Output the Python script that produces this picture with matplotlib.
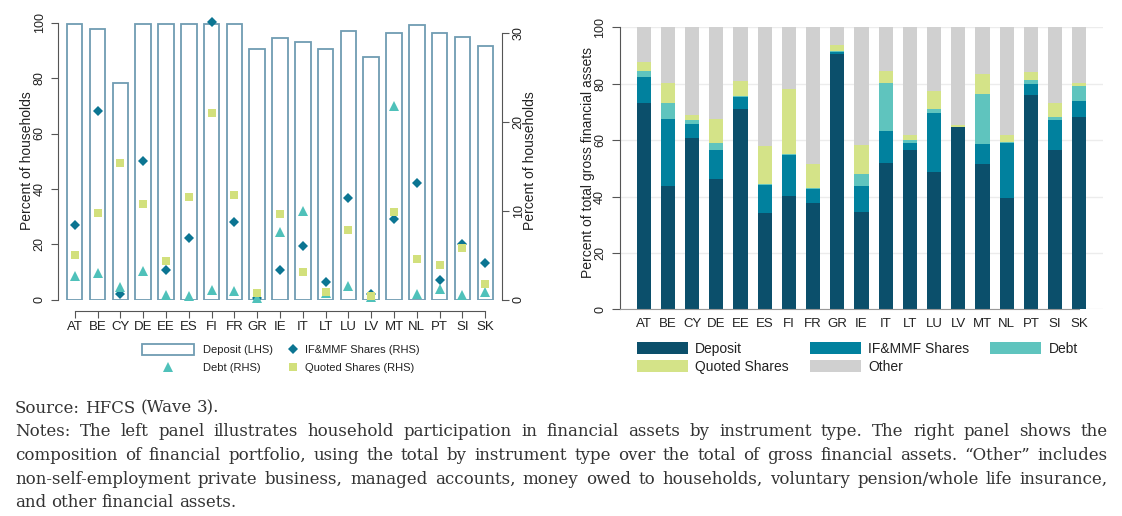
import matplotlib
matplotlib.use('Agg')
import matplotlib.pyplot as plt
from matplotlib.patches import Patch
from matplotlib.lines import Line2D
import numpy as np

plt.rcParams['font.family'] = ['Liberation Sans', 'DejaVu Sans']

# ---------------- data ----------------
countries = ["AT", "BE", "CY", "DE", "EE", "ES", "FI", "FR", "GR", "IE",
             "IT", "LT", "LU", "LV", "MT", "NL", "PT", "SI", "SK"]

# Left panel: participation (percent of households)
part_deposit = [99.5, 97.7, 78.1, 99.4, 99.5, 99.5, 99.7, 99.5, 90.4, 94.5,
                92.9, 90.4, 97.0, 87.6, 96.3, 99.2, 96.3, 94.7, 91.6]   # LHS
part_ifmmf = [8.4, 21.2, 0.6, 15.6, 3.4, 7.0, 31.3, 8.7, 0.2, 3.4,
              6.0, 2.0, 11.5, 0.65, 9.1, 13.1, 2.2, 6.3, 4.1]          # RHS
part_debt = [2.7, 3.0, 1.4, 3.2, 0.5, 0.4, 1.05, 0.95, 0.2, 7.6,
             10.0, 0.7, 1.5, 0.3, 21.8, 0.65, 1.25, 0.5, 0.9]          # RHS
part_quoted = [5.0, 9.8, 15.4, 10.8, 4.4, 11.6, 21.0, 11.8, 0.8, 9.7,
               3.1, 0.9, 7.8, 0.4, 9.9, 4.6, 3.9, 5.8, 1.8]            # RHS

# Right panel: composition (percent of total gross financial assets)
comp_deposit = [73.0, 43.7, 60.8, 46.2, 71.0, 34.3, 40.2, 37.8, 90.4, 34.6,
                52.0, 56.5, 48.6, 64.5, 51.5, 39.4, 76.0, 56.5, 68.1]
comp_ifmmf = [9.3, 23.9, 4.9, 10.3, 4.3, 9.7, 14.5, 4.8, 1.0, 9.0,
              11.4, 2.4, 20.9, 0.2, 7.1, 19.7, 3.9, 10.8, 5.8]
comp_debt = [2.2, 5.4, 1.4, 2.4, 0.3, 0.4, 0.4, 0.5, 0.2, 4.3,
             16.7, 1.1, 1.4, 0.1, 17.9, 0.4, 1.4, 0.8, 5.2]
comp_quoted = [3.3, 7.4, 1.7, 8.6, 5.4, 13.6, 22.9, 8.4, 2.0, 10.4,
               4.4, 1.9, 6.6, 0.4, 7.1, 2.2, 2.7, 5.2, 1.3]
comp_other = [12.2, 19.6, 31.2, 32.5, 19.0, 42.0, 22.0, 48.5, 6.4, 41.7,
              15.5, 38.1, 22.5, 34.8, 16.4, 38.3, 16.0, 26.7, 19.6]

left_yticks = [0, 20, 40, 60, 80, 100]
right_yticks = [0, 10, 20, 30]
comp_yticks = [0, 20, 40, 60, 80, 100]

source_text = "Source: HFCS (Wave 3)."
notes_lines = [
    "Notes: The left panel illustrates household participation in financial assets by instrument type. The right panel shows the",
    "composition of financial portfolio, using the total by instrument type over the total of gross financial assets. \u201cOther\u201d includes",
    "non-self-employment private business, managed accounts, money owed to households, voluntary pension/whole life insurance,",
    "and other financial assets.",
]

# ---------------- styling ----------------
BAR_EDGE = '#6f9cb2'
C_DIAM = '#0b7592'
C_TRI = '#4fc1ba'
C_SQ = '#d2e07c'
C_DEP = '#0b4f6b'
C_IF = '#01819e'
C_DEBT = '#5fc4be'
C_QS = '#d4e388'
C_OTH = '#d0d0d0'
SPINE = '#555555'
TXT = '#222222'

W, H = 1122, 516
fig = plt.figure(figsize=(W / 100, H / 100), dpi=100)


def fbox(x0, y0, x1, y1):
    return [x0 / W, 1 - y1 / H, (x1 - x0) / W, (y1 - y0) / H]


x = np.arange(len(countries))

# ---------------- left panel ----------------
ax1 = fig.add_axes(fbox(58.3, 22.7, 501.7, 299.7))
ax1.bar(x, part_deposit, width=0.68, facecolor='white', edgecolor=BAR_EDGE,
        linewidth=1.3, zorder=1)
ax1.set_xlim(-0.72, len(countries) - 1 + 0.72)
ax1.set_ylim(0, 100)
ax1.patch.set_visible(False)

ax2 = ax1.twinx()
ax2.set_ylim(0, 277 / 8.88)
ax2.plot(x, part_ifmmf, linestyle='none', marker='D', ms=5.3, color=C_DIAM,
         mew=0, clip_on=False, zorder=3)
ax2.plot(x, part_debt, linestyle='none', marker='^', ms=6.8, color=C_TRI,
         mew=0, clip_on=False, zorder=4)
ax2.plot(x, part_quoted, linestyle='none', marker='s', ms=5.2, color=C_SQ,
         mew=0, clip_on=False, zorder=5)

for s in ['top', 'right']:
    ax1.spines[s].set_visible(False)
ax1.spines['left'].set_bounds(0, 100)
ax1.spines['left'].set_color(SPINE)
ax1.spines['bottom'].set_position(('outward', 8))
ax1.spines['bottom'].set_bounds(0, len(countries) - 1)
ax1.spines['bottom'].set_color(SPINE)
ax1.set_yticks(left_yticks)
ax1.set_xticks(x)
ax1.set_xticklabels(countries)
ax1.tick_params(axis='y', length=5, color=SPINE, pad=4, labelsize=9,
                labelrotation=90, labelcolor=TXT)
ax1.tick_params(axis='x', length=5, color=SPINE, pad=2, labelsize=9.5,
                labelcolor=TXT)
for lab in ax1.get_yticklabels():
    lab.set_va('center')

for s in ['top', 'left', 'bottom']:
    ax2.spines[s].set_visible(False)
ax2.spines['right'].set_bounds(0, 30)
ax2.spines['right'].set_color(SPINE)
ax2.set_yticks(right_yticks)
ax2.tick_params(axis='y', length=5, color=SPINE, pad=3, labelsize=9,
                labelrotation=90, labelcolor=TXT)
for lab in ax2.get_yticklabels():
    lab.set_va('center')

fig.text(27 / W, 1 - 161 / H, "Percent of households", rotation=90,
         ha='center', va='center', fontsize=10, color=TXT)
fig.text(530 / W, 1 - 161 / H, "Percent of households", rotation=90,
         ha='center', va='center', fontsize=10, color=TXT)

legA = fig.legend(
    handles=[Patch(facecolor='white', edgecolor=BAR_EDGE, linewidth=1.3),
             Line2D([], [], linestyle='none', marker='^', ms=6.8, color=C_TRI, mew=0)],
    labels=["Deposit (LHS)", "Debt (RHS)"],
    loc='upper left', bbox_to_anchor=(141.6 / W, 1 - 344 / H),
    frameon=False, fontsize=8, handlelength=4.7, handleheight=1.15,
    handletextpad=0.8, labelspacing=0.6, borderpad=0, borderaxespad=0)
for t in legA.get_texts():
    t.set_color(TXT)
legB = fig.legend(
    handles=[Line2D([], [], linestyle='none', marker='D', ms=5.3, color=C_DIAM, mew=0),
             Line2D([], [], linestyle='none', marker='s', ms=5.2, color=C_SQ, mew=0)],
    labels=["IF&MMF Shares (RHS)", "Quoted Shares (RHS)"],
    loc='upper left', bbox_to_anchor=(287 / W, 1 - 344 / H),
    frameon=False, fontsize=8, handlelength=1.1, handleheight=1.15,
    handletextpad=0.5, labelspacing=0.6, borderpad=0, borderaxespad=0)
for t in legB.get_texts():
    t.set_color(TXT)

# ---------------- right panel ----------------
ax3 = fig.add_axes(fbox(620, 27.3, 1103, 309.3))
series = [(comp_deposit, C_DEP, "Deposit"), (comp_ifmmf, C_IF, "IF&MMF Shares"),
          (comp_debt, C_DEBT, "Debt"), (comp_quoted, C_QS, "Quoted Shares"),
          (comp_other, C_OTH, "Other")]
bottom = np.zeros(len(countries))
bars = {}
for vals, col, name in series:
    v = np.array(vals)
    bars[name] = ax3.bar(x, v, bottom=bottom, width=0.59, color=col,
                         edgecolor='none', zorder=2, label=name)
    bottom += v
ax3.set_xlim(-0.98, len(countries) - 1 + 0.98)
ax3.set_ylim(0, 100)
ax3.set_yticks(comp_yticks)
ax3.yaxis.grid(True, color='#ececec', linewidth=1, zorder=0)
ax3.set_axisbelow(True)
for s in ['top', 'right']:
    ax3.spines[s].set_visible(False)
ax3.spines['left'].set_color(SPINE)
ax3.spines['left'].set_bounds(0, 100)
ax3.spines['bottom'].set_color('#999999')
ax3.spines['bottom'].set_bounds(-0.98, len(countries) - 1)
ax3.set_xticks(x)
ax3.set_xticklabels(countries)
ax3.tick_params(axis='x', length=0, pad=6, labelsize=9.5, labelcolor=TXT)
ax3.tick_params(axis='y', length=6, color=SPINE, pad=4, labelsize=9,
                labelrotation=90, labelcolor=TXT)
for lab in ax3.get_yticklabels():
    lab.set_va('center')
fig.text(588 / W, 1 - 162.5 / H, "Percent of total gross financial assets",
         rotation=90, ha='center', va='center', fontsize=10, color=TXT)

order = ["Deposit", "Quoted Shares", "IF&MMF Shares", "Other", "Debt"]
legC = fig.legend(handles=[bars[n] for n in order], labels=order,
                  ncol=3, loc='upper left', bbox_to_anchor=(637 / W, 1 - 342 / H),
                  frameon=False, fontsize=10, handlelength=3.7, handleheight=0.95,
                  handletextpad=0.5, labelspacing=0.3, columnspacing=1.5,
                  borderpad=0, borderaxespad=0)
for t in legC.get_texts():
    t.set_color(TXT)

# ---------------- notes (justified) ----------------
fig.canvas.draw()
renderer = fig.canvas.get_renderer()
NOTE_FAMILY = ['DejaVu Serif']
X0, X1 = 15, 1108


def width_of(s, size):
    t = fig.text(0, 0, s, fontsize=size, family=NOTE_FAMILY)
    w = t.get_window_extent(renderer).width
    t.remove()
    return w


# choose the size so the first full line fits naturally in the text block
base = 11.0
nat = width_of(notes_lines[0], base)
note_size = max(9.5, min(12.0, base * (X1 - X0) / nat * 0.985))
NOTE_KW = dict(fontsize=note_size, family=NOTE_FAMILY, color='#333333',
               va='baseline', ha='left')
space_w = width_of("x x", note_size) - width_of("xx", note_size)


def put_line(text, baseline, x0, x1=None):
    words = text.split(' ')
    arts = [fig.text(0, 0, w, **NOTE_KW) for w in words]
    widths = [a.get_window_extent(renderer).width for a in arts]
    if x1 is None or len(words) == 1:
        gap = space_w
    else:
        gap = (x1 - x0 - sum(widths)) / (len(words) - 1)
    pos = x0
    for a, w in zip(arts, widths):
        a.set_position((pos / W, 1 - baseline / H))
        pos += w + gap


put_line(source_text, 412.7, X0)
baselines = [436.3, 459.9, 483.5, 507.1]
for i, (ln, b) in enumerate(zip(notes_lines, baselines)):
    put_line(ln, b, X0, X1 if i < len(notes_lines) - 1 else None)

fig.savefig('out.png', dpi=100)
